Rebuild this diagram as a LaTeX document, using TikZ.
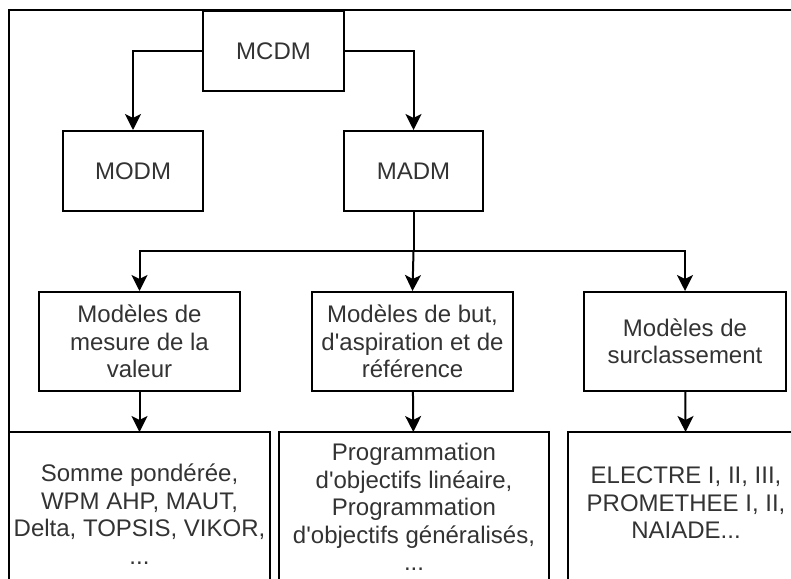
\documentclass[tikz,border=0pt]{standalone}
\usepackage{fontspec}
\setmainfont{Liberation Sans}[Ligatures=TeXOff]
\usetikzlibrary{arrows.meta}

\begin{document}
\begin{tikzpicture}[x=0.5pt,y=-0.5pt,
	box/.style={draw,line width=1pt,align=center,inner sep=0pt,text=black!80,
		font=\fontsize{12}{13.75}\selectfont},
	arr/.style={line width=1pt,-{Stealth[length=8pt,width=8pt,inset=2pt]}}]
			\def \unitpx {0.5pt};
			\useasboundingbox (0,0) rectangle (791,578);
			\clip (0,0) rectangle (791,578);
			
			%cadre
			\draw[line width=1pt] (9,10) rectangle (830,640);
			
			%niveau 1 et 2
			\node[box,minimum width=141*\unitpx,minimum height=80*\unitpx] (mcdm) at (273.5,51) {MCDM};
			\node[box,minimum width=140*\unitpx,minimum height=80*\unitpx] (modm) at (133,171) {MODM};
			\node[box,minimum width=139*\unitpx,minimum height=80*\unitpx] (madm) at (413.5,171) {MADM};
			\draw[arr] (mcdm.west) -| (modm.north);
			\draw[arr] (mcdm.east) -| (madm.north);
			
			%familles de modeles
			\node[box,minimum width=201*\unitpx,minimum height=99*\unitpx] (valeur) at (139.5,341.5) {Modèles de\\mesure de la\\valeur};
			\node[box,minimum width=201*\unitpx,minimum height=99*\unitpx] (but) at (412.5,341.5) {Modèles de but,\\d'aspiration et de\\référence};
			\node[box,minimum width=202*\unitpx,minimum height=99*\unitpx] (surcl) at (685,341.5) {Modèles de\\surclassement};
			\coordinate (hub) at (413.5,251);
			\draw[line width=1pt] (madm.south) -- (hub);
			\draw[arr] (hub) -| (valeur.north);
			\draw[arr] (hub) -- (but.north);
			\draw[arr] (hub) -| (surcl.north);
			
			%methodes (boites coupees en bas)
			\node[box,draw=none,anchor=north,minimum width=259*\unitpx,minimum height=162*\unitpx] (somme) at (139.5,432) {Somme pondérée,\\WPM AHP, MAUT,\\Delta, TOPSIS, VIKOR,\\...};
			\node[box,draw=none,anchor=north,minimum width=268*\unitpx,minimum height=148*\unitpx] (prog) at (414,432) {Programmation\\d'objectifs linéaire,\\Programmation\\d'objectifs généralisés,\\...};
			\node[box,draw=none,anchor=north,minimum width=234*\unitpx,minimum height=140*\unitpx] (electre) at (686,432) {ELECTRE I, II, III,\\PROMETHEE I, II,\\NAIADE...};
			\draw[line width=1pt] (somme.north west) rectangle (somme.east |- 0,640);
			\draw[line width=1pt] (prog.north west) rectangle (prog.east |- 0,640);
			\draw[line width=1pt] (electre.north west) rectangle (electre.east |- 0,640);
			\draw[arr] (valeur) -- (somme);
			\draw[arr] (but) -- (prog);
			\draw[arr] (surcl) -- (electre);
		\end{tikzpicture}
\end{document}
